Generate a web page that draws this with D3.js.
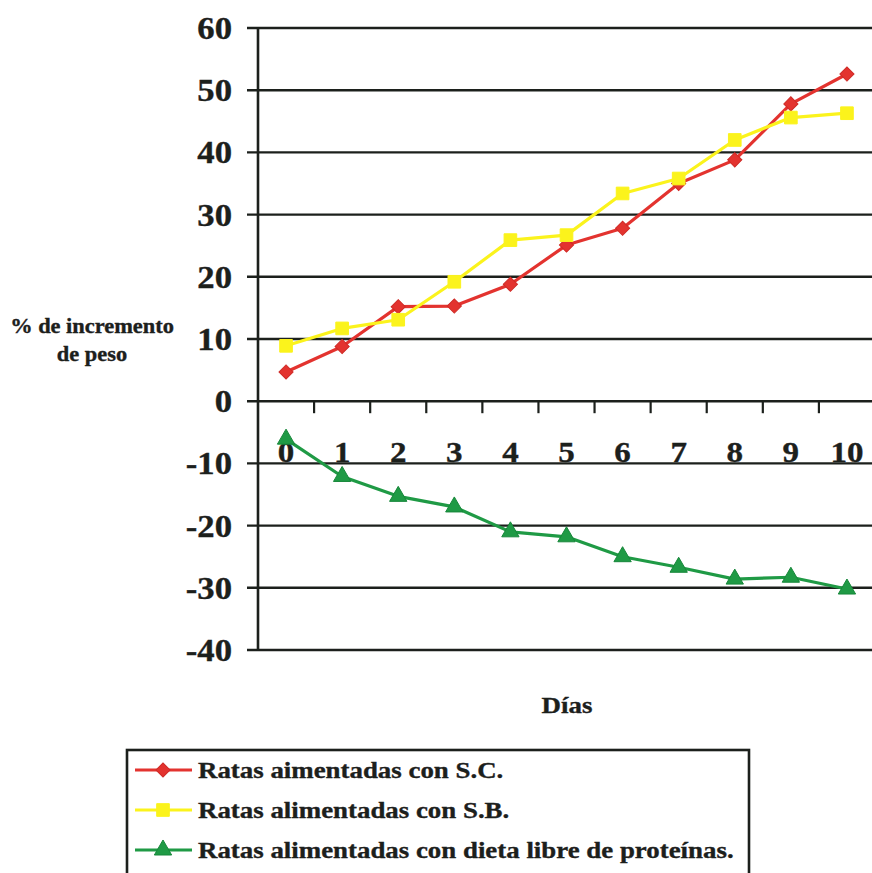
<!DOCTYPE html>
<html>
<head>
<meta charset="utf-8">
<script src="https://cdn.jsdelivr.net/npm/d3@7"></script>
<style>
  html, body { margin: 0; padding: 0; background: #ffffff; }
  svg { display: block; }
  text { font-family: "Liberation Serif", "Times New Roman", serif; font-weight: bold; fill: #1c201c; stroke: #1c201c; stroke-width: 0.35px; }
</style>
</head>
<body>
<svg id="chart" width="872" height="873"></svg>
<script>
// ---- data ----
const days = ["0","1","2","3","4","5","6","7","8","9","10"];
const yTicks = [60, 50, 40, 30, 20, 10, 0, -10, -20, -30, -40];
const seriesNames = [
  "Ratas aimentadas con S.C.",
  "Ratas alimentadas con S.B.",
  "Ratas alimentadas con dieta libre de proteínas."
];
const valuesSC = [4.7, 8.8, 15.2, 15.3, 18.8, 25.1, 27.8, 35.0, 38.8, 47.8, 52.6];
const valuesSB = [8.9, 11.7, 13.1, 19.2, 25.9, 26.7, 33.4, 35.8, 42.0, 45.6, 46.3];
const valuesDLP = [-6.1, -12.1, -15.3, -17.0, -21.0, -21.8, -25.0, -26.7, -28.6, -28.3, -30.2];
const yTitle = ["% de incremento", "de peso"];
const xTitle = "Días";

// ---- layout ----
const svg = d3.select("#chart");
const ink = "#1c201c";
const plotLeft = 258, plotRight = 875, plotTop = 28, plotBottom = 650;
const stretch = 1.12;

const x = d3.scaleBand().domain(days).range([plotLeft, plotRight]).paddingInner(0).paddingOuter(0);
const y = d3.scaleLinear().domain([-40, 60]).range([plotBottom, plotTop]);
const cx = d => x(d) + x.bandwidth() / 2;

// gridlines (incl. tick stubs left of axis)
svg.append("g").selectAll("line").data(yTicks).join("line")
  .attr("x1", plotLeft - 11).attr("x2", plotRight)
  .attr("y1", d => y(d)).attr("y2", d => y(d))
  .attr("stroke", ink).attr("stroke-width", 2.4);

// y axis line
svg.append("line")
  .attr("x1", plotLeft).attr("x2", plotLeft)
  .attr("y1", y(60) - 1).attr("y2", y(-40) + 1)
  .attr("stroke", ink).attr("stroke-width", 2.6);

// x axis ticks on zero line (band boundaries), pointing down
const boundaries = days.slice(1).map(d => x(d)).concat([x("10") + x.bandwidth()]);
svg.append("g").selectAll("line").data(boundaries).join("line")
  .attr("x1", d => d).attr("x2", d => d)
  .attr("y1", y(0)).attr("y2", y(0) + 12)
  .attr("stroke", ink).attr("stroke-width", 2.2);

// y tick labels
svg.append("g").selectAll("g").data(yTicks).join("g")
  .attr("transform", d => `translate(232,${y(d) + 11}) scale(${stretch},1)`)
  .append("text")
  .attr("text-anchor", "end")
  .style("font-size", "31px")
  .text(d => d);

// x tick labels (sit just above the -10 gridline)
svg.append("g").selectAll("g").data(days).join("g")
  .attr("transform", d => `translate(${cx(d)},${y(-10) - 1}) scale(1.1,1)`)
  .append("text")
  .attr("text-anchor", "middle")
  .style("font-size", "30px")
  .text(d => d);

// axis titles
const yt = svg.append("g");
yTitle.forEach((t, i) => {
  yt.append("g").attr("transform", `translate(92,${333 + i * 28}) scale(${stretch},1)`)
    .append("text").attr("text-anchor", "middle").style("font-size", "20px").text(t);
});
svg.append("g").attr("transform", `translate(567,713) scale(${stretch},1)`)
  .append("text").attr("text-anchor", "middle").style("font-size", "24px").text(xTitle);

// ---- series ----
const red = "#e3332f", yellow = "#fbf31c", green = "#1f9a45";
const series = [
  { name: seriesNames[0], values: valuesSC, color: red, stroke: "#cf2a26", marker: "diamond" },
  { name: seriesNames[1], values: valuesSB, color: yellow, stroke: yellow, marker: "square" },
  { name: seriesNames[2], values: valuesDLP, color: green, stroke: "#17873a", marker: "triangle" }
];
const symbolType = { diamond: d3.symbolSquare, square: d3.symbolSquare, triangle: d3.symbolTriangle };
const symbolSize = { diamond: 100, square: 160, triangle: 130 };
const symbolRot = { diamond: 45, square: 0, triangle: 0 };

const line = d3.line().x((v, i) => cx(days[i])).y(v => y(v));

series.forEach(s => {
  const g = svg.append("g");
  g.append("path").datum(s.values)
    .attr("d", line).attr("fill", "none")
    .attr("stroke", s.color).attr("stroke-width", 3.2).attr("stroke-linejoin", "round");
  g.selectAll("path.m").data(s.values).join("path").attr("class", "m")
    .attr("transform", (v, i) => `translate(${cx(days[i])},${y(v)}) rotate(${symbolRot[s.marker]})`)
    .attr("d", d3.symbol().type(symbolType[s.marker]).size(symbolSize[s.marker]))
    .attr("fill", s.color).attr("stroke", s.stroke).attr("stroke-width", 1);
});

// ---- legend ----
const lg = svg.append("g");
lg.append("rect").attr("x", 127).attr("y", 750).attr("width", 622).attr("height", 150)
  .attr("fill", "none").attr("stroke", ink).attr("stroke-width", 2.6);
series.forEach((s, i) => {
  const ry = 770 + i * 40;
  lg.append("line").attr("x1", 135).attr("x2", 192).attr("y1", ry).attr("y2", ry)
    .attr("stroke", s.color).attr("stroke-width", 3.2);
  lg.append("path").attr("transform", `translate(163,${ry}) rotate(${symbolRot[s.marker]})`)
    .attr("d", d3.symbol().type(symbolType[s.marker]).size(symbolSize[s.marker]))
    .attr("fill", s.color).attr("stroke", s.stroke).attr("stroke-width", 1);
  lg.append("g").attr("transform", `translate(198,${ry + 8}) scale(${stretch},1)`)
    .append("text").style("font-size", "24px").text(s.name);
});
</script>
</body>
</html>
